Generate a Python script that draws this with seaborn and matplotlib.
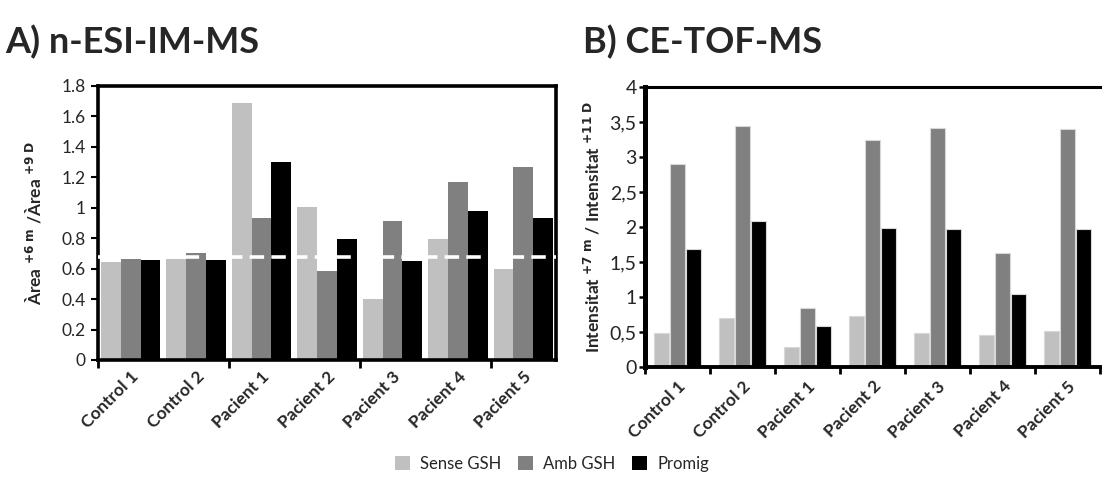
import numpy as np
import pandas as pd
import matplotlib
matplotlib.use("Agg")
import matplotlib.pyplot as plt
from matplotlib.patches import Patch
import seaborn as sns

# Sample labels and series
categories = ["Control 1", "Control 2", "Pacient 1", "Pacient 2",
              "Pacient 3", "Pacient 4", "Pacient 5"]
series = ["Sense GSH", "Amb GSH", "Promig"]

# A) n-ESI-IM-MS area ratios
esi_sense = [0.645, 0.665, 1.69, 1.005, 0.40, 0.795, 0.60]
esi_amb = [0.665, 0.70, 0.93, 0.585, 0.91, 1.17, 1.265]
esi_promig = [0.66, 0.66, 1.30, 0.795, 0.65, 0.98, 0.93]
esi_reference = 0.675

# B) CE-TOF-MS intensity ratios
ce_sense = [0.48, 0.70, 0.29, 0.73, 0.48, 0.46, 0.52]
ce_amb = [2.90, 3.44, 0.85, 3.25, 3.42, 1.63, 3.40]
ce_promig = [1.69, 2.08, 0.59, 1.99, 1.97, 1.05, 1.97]

esi_ticks = [0, 0.2, 0.4, 0.6, 0.8, 1, 1.2, 1.4, 1.6, 1.8]
esi_ticklabels = ["0", "0.2", "0.4", "0.6", "0.8", "1", "1.2", "1.4", "1.6", "1.8"]
ce_ticks = [0, 0.5, 1, 1.5, 2, 2.5, 3, 3.5, 4]
ce_ticklabels = ["0", "0,5", "1", "1,5", "2", "2,5", "3", "3,5", "4"]

colors = ["#c0c0c0", "#808080", "#000000"]

sns.set_theme(style="white")
plt.rcParams["font.family"] = ["Lato", "DejaVu Sans"]


def long_frame(a, b, c):
    rows = []
    for s, vals in zip(series, (a, b, c)):
        for cat, v in zip(categories, vals):
            rows.append({"Mostra": cat, "Serie": s, "Valor": v})
    return pd.DataFrame(rows)


esi_df = long_frame(esi_sense, esi_amb, esi_promig)
ce_df = long_frame(ce_sense, ce_amb, ce_promig)

fig = plt.figure(figsize=(11.04, 4.80), dpi=100)
ax1 = fig.add_axes([98 / 1104, 1 - 360 / 480, 458 / 1104, 274 / 480])
ax2 = fig.add_axes([645 / 1104, 1 - 367 / 480, 455 / 1104, 280 / 480])

# Panel A
sns.barplot(data=esi_df, x="Mostra", y="Valor", hue="Serie", order=categories,
            hue_order=series, palette=colors, width=0.91, gap=0,
            linewidth=0, saturation=1, legend=False, ax=ax1, errorbar=None)
ax1.axhline(esi_reference, color="white", lw=2.6, ls=(0, (4, 2)), zorder=5)
ax1.set_xlim(-0.5, 6.5)
ax1.set_ylim(0, 1.8)
ax1.set_yticks(esi_ticks)
ax1.set_yticklabels(esi_ticklabels, fontsize=12.5)
for s in ax1.spines.values():
    s.set_visible(True)
    s.set_color("black")
    s.set_linewidth(2.6)
ax1.tick_params(axis="y", direction="out", length=5, width=1.5, color="black",
                pad=4, left=True)
ax1.set_xticks(range(len(categories)))
ax1.set_xticklabels(categories, rotation=45, ha="right", rotation_mode="anchor",
                    fontsize=12.5, fontweight="bold")
ax1.tick_params(axis="x", which="major", length=0, pad=6)
ax1.set_xticks([-0.5, 1.5, 3.5, 5.5], minor=True)
ax1.tick_params(axis="x", which="minor", direction="out", length=6, width=2,
                color="black", bottom=True)
ax1.set_xlabel("")
ax1.set_ylabel(r"Àrea $^{\mathbf{+6\ m}}$ /Àrea $^{\mathbf{+9\ D}}$",
               fontsize=12.5, fontweight="bold", labelpad=12)

# Panel B
sns.barplot(data=ce_df, x="Mostra", y="Valor", hue="Serie", order=categories,
            hue_order=series, palette=colors, width=0.73, gap=0.04,
            linewidth=0.8, edgecolor="#d8d8d8", saturation=1, legend=False,
            ax=ax2, errorbar=None)
ax2.set_xlim(-0.5, 6.5)
ax2.set_ylim(0, 4)
ax2.set_yticks(ce_ticks)
ax2.set_yticklabels(ce_ticklabels, fontsize=14)
ax2.spines["right"].set_visible(False)
ax2.spines["left"].set_linewidth(3.6)
ax2.spines["bottom"].set_linewidth(2.8)
ax2.spines["top"].set_linewidth(2.2)
for s in ax2.spines.values():
    s.set_color("black")
ax2.tick_params(axis="y", direction="out", length=4, width=1.8, color="black",
                pad=2, left=True)
ax2.set_xticks(range(len(categories)))
ax2.set_xticklabels(categories, rotation=45, ha="right", rotation_mode="anchor",
                    fontsize=12.5, fontweight="bold")
ax2.tick_params(axis="x", which="major", length=0, pad=8)
ax2.set_xticks(np.arange(-0.5, 6.6, 1.0), minor=True)
ax2.tick_params(axis="x", which="minor", direction="out", length=5, width=2,
                color="black", bottom=True)
ax2.set_xlabel("")
ax2.set_ylabel(r"Intensitat $^{\mathbf{+7\ m}}$ / Intensitat $^{\mathbf{+11\ D}}$",
               fontsize=12.5, fontweight="bold", labelpad=5)

# Panel titles
fig.text(5 / 1104, 1 - 53 / 480, "A) n-ESI-IM-MS", fontsize=26,
         fontweight="bold", ha="left", va="baseline")
fig.text(583 / 1104, 1 - 53 / 480, "B) CE-TOF-MS", fontsize=26,
         fontweight="bold", ha="left", va="baseline")

# Shared legend
handles = [Patch(facecolor=c, edgecolor="none") for c in colors]
fig.legend(handles, series, loc="center", bbox_to_anchor=(0.5, 1 - 464 / 480),
           ncol=3, frameon=False, fontsize=12, handlelength=0.9,
           handleheight=0.9, handletextpad=0.6, columnspacing=1.0)

fig.savefig("out.png", dpi=100)
